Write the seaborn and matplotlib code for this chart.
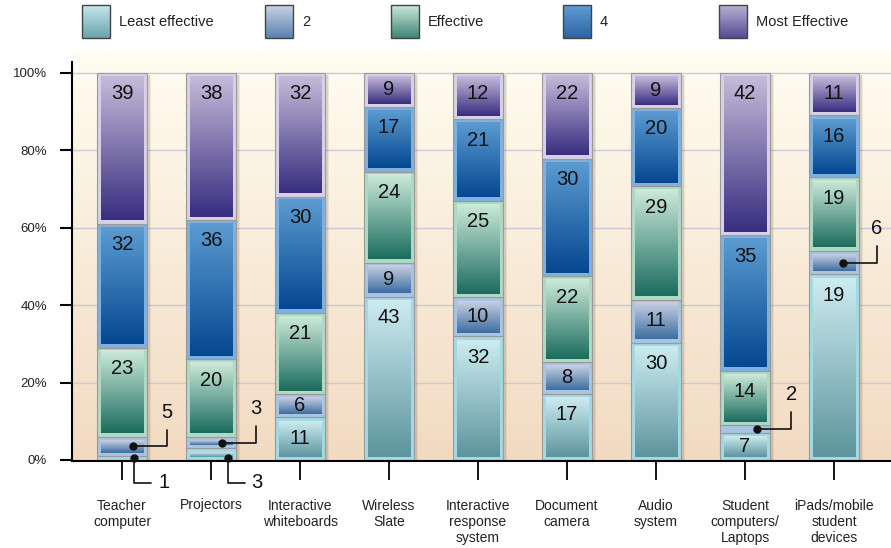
import numpy as np
import pandas as pd
import matplotlib.pyplot as plt
from matplotlib.colors import LinearSegmentedColormap
from matplotlib.patches import Rectangle
import seaborn as sns

categories = ["Teacher\ncomputer", "Projectors", "Interactive\nwhiteboards", "Wireless\nSlate",
              "Interactive\nresponse\nsystem", "Document\ncamera", "Audio\nsystem",
              "Student\ncomputers/\nLaptops", "iPads/mobile\nstudent\ndevices"]
series_names = ["Least effective", "2", "Effective", "4", "Most Effective"]
least = [1, 3, 11, 43, 32, 17, 30, 7, 48]
two = [5, 3, 6, 9, 10, 8, 11, 2, 6]
effective = [23, 20, 21, 24, 25, 22, 29, 14, 19]
four = [32, 36, 30, 17, 21, 30, 20, 35, 16]
most = [39, 38, 32, 9, 12, 22, 9, 42, 11]
# the printed label of the iPads bottom segment differs from its bar height
label_override = {(0, 8): "19"}

frame_colors = ["#a2d9e4", "#a8c4df", "#b0d8c5", "#7fb0de", "#d8d0e6"]
grad_top = ["#cbebf0", "#c8cfe1", "#cbe9d9", "#5b9bd1", "#c4bad9"]
grad_bot = ["#5e959e", "#3e6ea1", "#1c6d5f", "#054890", "#392e80"]
legend_top = ["#c6e8ee", "#c9d3e5", "#cbe8da", "#5d9ed3", "#b9b1d5"]
legend_bot = ["#6aa3ab", "#5a82b0", "#3f8676", "#2e64a6", "#574b92"]

df = pd.DataFrame({"category": categories, "Least effective": least, "2": two,
                   "Effective": effective, "4": four, "Most Effective": most})
totals = df[series_names].sum(axis=1)
pct = df[series_names].div(totals, axis=0) * 100
pct["category"] = categories

sns.set_style("white")
plt.rcParams["font.family"] = ["Liberation Sans", "DejaVu Sans"]

fig = plt.figure(figsize=(8.91, 5.48), dpi=100)
ax = fig.add_axes([72 / 891, (548 - 461) / 548, (891 - 72) / 891, (461 - 52) / 548])

# background gradient
bg = LinearSegmentedColormap.from_list("bg", ["#fffdf1", "#f2dac1"])
ax.imshow(np.linspace(0, 1, 256).reshape(-1, 1), cmap=bg, extent=[0, 1, 0, 1],
          transform=ax.transAxes, aspect="auto", zorder=0)
for g in [20, 40, 60, 80, 100]:
    ax.axhline(g, color="#c8ccd6", lw=1, zorder=0.5)

n = len(categories)
bw = 0.56
for j in range(n):
    for dx, a in [(0.05, 0.10), (0.03, 0.14)]:
        ax.add_patch(Rectangle((j - bw / 2 + dx, -0.3), bw, 100.3 - 0.6,
                               color="#6b5a48", alpha=a, lw=0, zorder=1))

bottom = np.zeros(n)
for i, name in enumerate(series_names):
    sns.barplot(data=pct, x="category", y=name, bottom=bottom, color=frame_colors[i],
                saturation=1, width=bw, edgecolor="#9a9a9a", linewidth=0.8,
                errorbar=None, zorder=2, ax=ax)
    cmap = LinearSegmentedColormap.from_list(name, [grad_top[i], grad_bot[i]])
    vals = pct[name].values
    for j in range(n):
        b, h = bottom[j], vals[j]
        if h >= 2.5:
            ax.imshow(np.linspace(0, 1, 64).reshape(-1, 1), cmap=cmap,
                      extent=[j - bw / 2 + 0.04, j + bw / 2 - 0.04, b + 0.9, b + h - 0.9],
                      aspect="auto", zorder=3)
    bottom = bottom + vals

# value labels
callouts = [(1, 0, 0.12, 0.50, True), (0, 0, 0.13, 0.33, False),
            (1, 1, 0.12, 0.50, True), (0, 1, 0.19, 0.38, False),
            (1, 7, 0.13, 0.52, True), (1, 8, 0.10, 0.48, True)]
called = {(c[0], c[1]) for c in callouts}
raw = [least, two, effective, four, most]
cum = np.zeros(n)
bottoms = []
for i, name in enumerate(series_names):
    bottoms.append(cum.copy())
    vals = pct[name].values
    for j in range(n):
        if (i, j) in called:
            continue
        top = cum[j] + vals[j]
        y = top - min(vals[j] / 2, 5.4)
        txt = label_override.get((i, j), str(raw[i][j]))
        ax.text(j, y, txt, ha="center", va="center", fontsize=14.5, color="#111", zorder=5)
    cum = cum + vals

for i, j, ddx, edx, up in callouts:
    b = bottoms[i][j]
    h = pct[series_names[i]].values[j]
    txt = str(raw[i][j])
    if up:
        yc = b + h / 2
        ax.plot([j + ddx, j + edx, j + edx], [yc, yc, yc + 4.3], color="#111", lw=1.2,
                zorder=6, clip_on=False)
        ax.plot(j + ddx, yc, "o", color="#111", ms=5, zorder=6, clip_on=False)
        ax.text(j + edx, yc + 8.8, txt, ha="center", va="center", fontsize=14.5,
                color="#111", zorder=6)
    else:
        yc = b + min(h / 2, 0.5)
        ax.plot([j + ddx, j + ddx, j + edx], [yc, -5.9, -5.9], color="#111", lw=1.2,
                zorder=6, clip_on=False)
        ax.plot(j + ddx, yc, "o", color="#111", ms=5, zorder=6, clip_on=False)
        ax.text(j + edx + 0.14, -5.9, txt, ha="center", va="center", fontsize=14.5,
                color="#111", zorder=6, clip_on=False)

ax.set_xlim(-0.562, 8.64)
ax.set_ylim(-0.26, 105.4)
ax.set_xlabel("")
ax.set_ylabel("")
ax.set_yticks([0, 20, 40, 60, 80, 100])
ax.set_yticklabels([f"{v}%" for v in [0, 20, 40, 60, 80, 100]])
ax.set_xticks(range(n))
ax.set_xticklabels(categories)
ax.tick_params(axis="y", length=9, width=1.5, pad=9, labelsize=9.5, labelcolor="#222",
               color="black", left=True)
ax.tick_params(axis="x", length=14, width=1.3, pad=13, labelsize=10, labelcolor="#222",
               color="black", bottom=True)
for s in ["top", "right"]:
    ax.spines[s].set_visible(False)
for s in ["left", "bottom"]:
    ax.spines[s].set_color("black")
    ax.spines[s].set_linewidth(1.5)
ax.spines["left"].set_bounds(-0.26, 102.8)
ax.grid(False)

# legend
lax = fig.add_axes([0, 0, 1, 1], facecolor="none")
lax.set_xlim(0, 891)
lax.set_ylim(548, 0)
lax.axis("off")
sw_x = [82, 265, 391, 563, 719]
for i, name in enumerate(series_names):
    cmap = LinearSegmentedColormap.from_list("l" + name, [legend_top[i], legend_bot[i]])
    lax.imshow(np.linspace(0, 1, 64).reshape(-1, 1), cmap=cmap, origin="upper",
               extent=[sw_x[i], sw_x[i] + 28, 38, 5], aspect="auto", zorder=2)
    lax.add_patch(Rectangle((sw_x[i], 5), 28, 33, fill=False, edgecolor="#444", lw=1, zorder=3))
    lax.text(sw_x[i] + 37, 22, name, ha="left", va="center", fontsize=10.5, color="#222")
lax.set_xlim(0, 891)
lax.set_ylim(548, 0)

fig.savefig("out.png", dpi=100)
